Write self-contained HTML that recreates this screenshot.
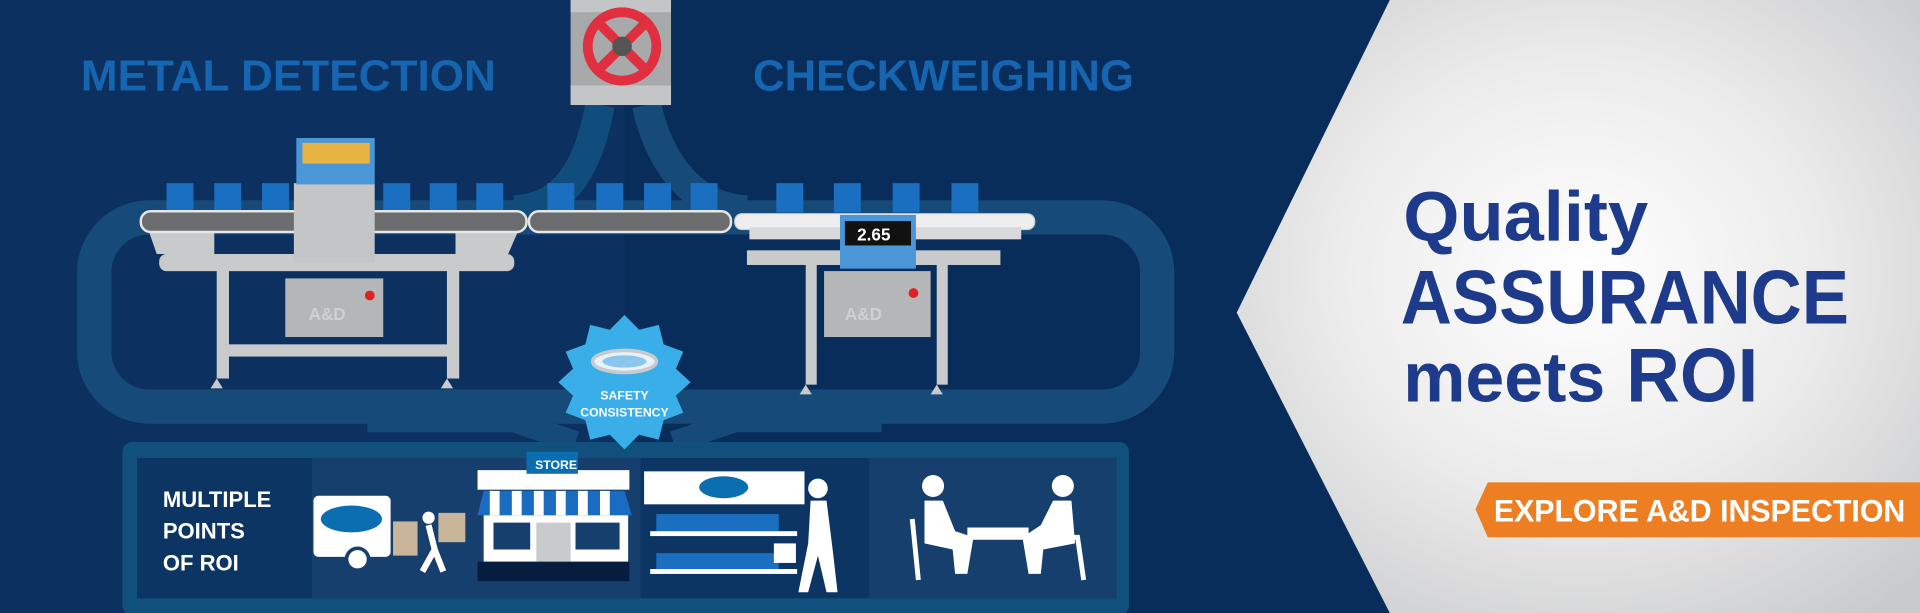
<!DOCTYPE html>
<html><head><meta charset="utf-8"><style>
html,body{margin:0;padding:0;width:1920px;height:613px;overflow:hidden;background:#0b2f5e}
svg{display:block}
text{font-family:"Liberation Sans",sans-serif;font-weight:bold}
</style></head><body>
<svg width="1920" height="613" viewBox="0 0 1568 502" preserveAspectRatio="none" xmlns="http://www.w3.org/2000/svg">
<defs>
<radialGradient id="rg" cx="0.5" cy="0.45" r="0.7">
<stop offset="0" stop-color="#ffffff"/><stop offset="0.5" stop-color="#ececec"/><stop offset="1" stop-color="#c9cacc"/>
</radialGradient>
</defs>
<rect width="1568" height="502" fill="#0c3160"/>
<rect x="510" width="630" height="502" fill="#082d5a"/>
<!-- loop pipe -->
<rect x="77" y="178" width="868" height="155" rx="45" fill="none" stroke="#164a78" stroke-width="28"/>
<path d="M490 86 C480 140 460 170 420 172" fill="none" stroke="#114d7c" stroke-width="24"/>
<path d="M528 86 C540 140 570 170 610 172" fill="none" stroke="#164a78" stroke-width="24"/>
<path d="M300 345 L420 345 L470 362 M720 345 L600 345 L550 362" fill="none" stroke="#164a78" stroke-width="18"/>
<!-- valve -->
<rect x="466" y="0" width="82" height="86" fill="#a8a9ab"/>
<rect x="466" y="0" width="82" height="10" fill="#c4c5c7"/>
<rect x="466" y="70" width="82" height="16" fill="#c4c5c7"/>
<circle cx="508" cy="38" r="28" fill="none" stroke="#e0303f" stroke-width="8"/>
<path d="M490 20 L526 56 M526 20 L490 56" stroke="#e0303f" stroke-width="8"/>
<circle cx="508" cy="38" r="8" fill="#555"/>
<!-- titles -->
<text x="66" y="74" font-size="36" fill="#1565b0" textLength="339" lengthAdjust="spacingAndGlyphs">METAL DETECTION</text>
<text x="615" y="74" font-size="36" fill="#1565b0" textLength="311" lengthAdjust="spacingAndGlyphs">CHECKWEIGHING</text>
<!-- cups -->
<g fill="#1b6fc0">
<rect x="136" y="150" width="22" height="24"/><rect x="175" y="150" width="22" height="24"/><rect x="214" y="150" width="22" height="24"/>
<rect x="313" y="150" width="22" height="24"/><rect x="351" y="150" width="22" height="24"/><rect x="389" y="150" width="22" height="24"/>
<rect x="447" y="150" width="22" height="24"/><rect x="487" y="150" width="22" height="24"/><rect x="526" y="150" width="22" height="24"/><rect x="564" y="150" width="22" height="24"/>
<rect x="634" y="150" width="22" height="24"/><rect x="681" y="150" width="22" height="24"/><rect x="729" y="150" width="22" height="24"/><rect x="777" y="150" width="22" height="24"/>
</g>
<!-- left machine -->
<g fill="#c9cacc">
<rect x="177" y="210" width="10" height="100"/><rect x="365" y="210" width="10" height="100"/>
<rect x="185" y="282" width="185" height="10"/>
<path d="M177 310 l5 8 l-10 0z M365 310 l5 8 l-10 0z"/>
<path d="M120 185 L175 185 L175 208 L128 208 Z"/><path d="M372 185 L425 185 L415 208 L372 208Z"/>
<rect x="130" y="208" width="290" height="14" rx="6"/>
</g>
<rect x="115" y="173" width="315" height="17" rx="8" fill="#6b6c6e" stroke="#e6e6e6" stroke-width="2"/>
<rect x="432" y="173" width="165" height="17" rx="8" fill="#6b6c6e" stroke="#e6e6e6" stroke-width="2"/>
<rect x="240" y="150" width="66" height="65" fill="#c4c5c7"/>
<rect x="242" y="113" width="64" height="38" fill="#4a96d6"/>
<rect x="247" y="117" width="55" height="17" fill="#e7b443"/>
<rect x="233" y="228" width="80" height="48" fill="#b5b6b8"/>
<circle cx="302" cy="242" r="4" fill="#d22"/>
<text x="252" y="262" font-size="14" fill="#cfd0d2">A&amp;D</text>
<!-- right machine -->
<g fill="#c9cacc">
<rect x="658" y="215" width="9" height="100"/><rect x="765" y="215" width="9" height="100"/>
<rect x="610" y="205" width="207" height="12"/>
<path d="M658 315 l5 8 l-10 0z M765 315 l5 8 l-10 0z"/>
</g>
<rect x="600" y="175" width="245" height="13" rx="6" fill="#eee" stroke="#ccc"/>
<rect x="612" y="186" width="222" height="10" fill="#d8d9db"/>
<rect x="686" y="176" width="62" height="44" fill="#4a96d6"/>
<rect x="690" y="181" width="54" height="20" fill="#111"/>
<text x="700" y="197" font-size="14" fill="#fff" font-weight="normal">2.65</text>
<rect x="673" y="222" width="87" height="54" fill="#b5b6b8"/>
<circle cx="746" cy="240" r="4" fill="#d22"/>
<text x="690" y="262" font-size="14" fill="#cfd0d2">A&amp;D</text>
<!-- bottom box -->
<rect x="100" y="362" width="822" height="142" rx="8" fill="#11507c"/>
<rect x="112" y="375" width="143" height="115" fill="#0d3563"/>
<rect x="255" y="375" width="268" height="115" fill="#163f6d"/>
<rect x="523" y="375" width="187" height="115" fill="#0d3563"/>
<rect x="710" y="375" width="202" height="115" fill="#163f6d"/>
<text x="133" y="415" font-size="18" fill="#fff">MULTIPLE</text>
<text x="133" y="441" font-size="18" fill="#fff">POINTS</text>
<text x="133" y="467" font-size="18" fill="#fff">OF ROI</text>
<!-- truck -->
<rect x="256" y="406" width="63" height="50" rx="4" fill="#fff"/>
<ellipse cx="287" cy="425" rx="25" ry="11" fill="#0a6eb0"/>
<circle cx="292" cy="458" r="9" fill="#fff" stroke="#163f6d" stroke-width="3"/>
<rect x="321" y="427" width="20" height="28" fill="#c9b69a"/>
<rect x="358" y="420" width="22" height="24" fill="#c9b69a"/>
<circle cx="350" cy="424" r="5" fill="#fff"/><path d="M350 430 L355 450 L345 468 M355 450 L362 468" stroke="#fff" stroke-width="5" fill="none"/>
<!-- store -->
<rect x="390" y="385" width="124" height="16" fill="#fff"/>
<rect x="430" y="370" width="42" height="18" fill="#0a6eb0"/>
<text x="437" y="384" font-size="10" fill="#fff">STORE</text>
<path d="M395 402 L510 402 L516 422 L390 422Z" fill="#1a6cc0"/>
<g fill="#fff"><rect x="400" y="402" width="8" height="20"/><rect x="418" y="402" width="8" height="20"/><rect x="436" y="402" width="8" height="20"/><rect x="454" y="402" width="8" height="20"/><rect x="472" y="402" width="8" height="20"/><rect x="490" y="402" width="8" height="20"/></g>
<rect x="395" y="422" width="118" height="38" fill="#fff"/>
<rect x="403" y="428" width="30" height="22" fill="#163f6d"/><rect x="470" y="428" width="36" height="22" fill="#163f6d"/>
<rect x="438" y="428" width="28" height="32" fill="#c9cacc"/>
<rect x="390" y="460" width="124" height="16" fill="#061d40"/>
<!-- shelf -->
<rect x="526" y="386" width="131" height="27" fill="#fff"/>
<ellipse cx="591" cy="399" rx="20" ry="9" fill="#0a6eb0"/>
<g fill="#1b6fc0"><rect x="536" y="421" width="100" height="14"/><rect x="536" y="453" width="100" height="14"/></g>
<rect x="531" y="435" width="120" height="4" fill="#fff"/><rect x="531" y="466" width="120" height="4" fill="#fff"/>
<circle cx="668" cy="400" r="8" fill="#fff"/>
<path d="M662 410 L675 410 L680 450 L684 485 L675 485 L668 455 L660 485 L652 485 L660 445Z" fill="#fff"/>
<rect x="632" y="445" width="18" height="16" fill="#fff"/>
<!-- diners -->
<circle cx="762" cy="398" r="9" fill="#fff"/><circle cx="868" cy="398" r="9" fill="#fff"/>
<path d="M755 410 L770 410 L780 435 L795 440 L790 470 L780 470 L778 450 L755 445Z" fill="#fff"/>
<path d="M875 410 L860 410 L850 430 L835 440 L840 470 L850 470 L852 450 L878 445Z" fill="#fff"/>
<rect x="790" y="432" width="50" height="10" fill="#fff"/>
<path d="M745 425 L750 475 M860 440 L880 440 L885 475" stroke="#fff" stroke-width="4" fill="none"/>
<!-- badge -->
<polygon points="510,258 522,270 538,266 542,282 558,288 552,302 564,313 552,324 558,338 542,344 538,360 522,356 510,368 498,356 482,360 478,344 462,338 468,324 456,313 468,302 462,288 478,282 482,266 498,270" fill="#3aaee8"/>
<ellipse cx="510" cy="296" rx="26" ry="9" fill="#e8f2fa" stroke="#c9cacc" stroke-width="3"/>
<ellipse cx="510" cy="296" rx="18" ry="5" fill="#8cc6ec"/>
<text x="510" y="327" font-size="10" fill="#fff" text-anchor="middle">SAFETY</text>
<text x="510" y="341" font-size="10" fill="#fff" text-anchor="middle">CONSISTENCY</text>
<!-- right panel -->
<polygon points="1135,0 1568,0 1568,502 1135,502 1010,256" fill="url(#rg)"/>
<text x="1146" y="197" font-size="58" fill="#1e3a8a" textLength="200" lengthAdjust="spacingAndGlyphs">Quality</text>
<text x="1144" y="265" font-size="62" fill="#1e3a8a" textLength="366" lengthAdjust="spacingAndGlyphs">ASSURANCE</text>
<text x="1146" y="329" font-size="58" fill="#1e3a8a" textLength="165" lengthAdjust="spacingAndGlyphs">meets</text>
<text x="1328" y="329" font-size="62" fill="#1e3a8a" textLength="108" lengthAdjust="spacingAndGlyphs">ROI</text>
<polygon points="1215,395 1568,395 1568,440 1215,440 1205,417" fill="#ee7e22"/>
<text x="1220" y="427" font-size="26" fill="#fff" textLength="336" lengthAdjust="spacingAndGlyphs">EXPLORE A&amp;D INSPECTION</text>
</svg>
</body></html>
